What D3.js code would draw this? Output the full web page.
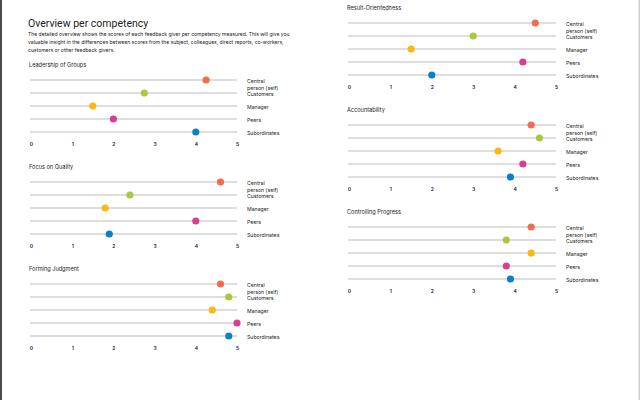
<!DOCTYPE html>
<html>
<head>
<meta charset="utf-8">
<script src="https://cdn.jsdelivr.net/npm/d3@7"></script>
<style>
  html, body { margin: 0; padding: 0; background: #fff; }
  svg { display: block; font-family: Inter, "Noto Sans", sans-serif; }
</style>
</head>
<body>
<svg id="chart" width="640" height="400"></svg>
<script>
// feedback givers, in row order
const givers = ['Central person (self)', 'Customers', 'Manager', 'Peers', 'Subordinates'];
const giverColors = ['#f26d4f', '#a9c93d', '#fcb712', '#d6408f', '#0b80c9'];
const ticks = [0, 1, 2, 3, 4, 5];

const competencies = ['Leadership of Groups', 'Focus on Quality', 'Forming Judgment',
  'Result-Orientedness', 'Accountability', 'Controlling Progress'];

const leadership = [4.25, 2.75, 1.5, 2.0, 4.0];
const focusQuality = [4.6, 2.4, 1.8, 4.0, 1.9];
const formingJudgment = [4.6, 4.8, 4.4, 5.0, 4.8];
const resultOrient = [4.5, 3.0, 1.5, 4.2, 2.0];
const accountability = [4.4, 4.6, 3.6, 4.2, 3.9];
const controlling = [4.4, 3.8, 4.4, 3.8, 3.9];

const scores = [leadership, focusQuality, formingJudgment, resultOrient, accountability, controlling];

const introLines = [
  'The detailed overview shows the scores of each feedback giver per competency measured. This will give you',
  'valuable insight in the differences between scores from the subject, colleagues, direct reports, co-workers,',
  'customers or other feedback givers.'
];

const svg = d3.select('#chart');

// page borders
svg.append('rect').attr('x', 0).attr('y', 0).attr('width', 2).attr('height', 400).attr('fill', '#4a4a4a');
svg.append('rect').attr('x', 638.5).attr('y', 0).attr('width', 1.5).attr('height', 400).attr('fill', '#cfcfcf');

svg.append('text')
  .attr('x', 28).attr('y', 27)
  .attr('font-size', 10.5).attr('fill', '#222')
  .attr('font-family', 'Roboto, Inter, sans-serif')
  .text('Overview per competency');

svg.selectAll('text.intro')
  .data(introLines)
  .enter().append('text')
  .attr('class', 'intro')
  .attr('x', 28).attr('y', (d, i) => 36 + i * 8)
  .attr('font-size', 5.05).attr('fill', '#222')
  .text(d => d);

// panel placement: column x-range and title baseline
const panels = [
  { x0: 31, x1: 237, top: 67 },
  { x0: 31, x1: 237, top: 169 },
  { x0: 31, x1: 237, top: 271 },
  { x0: 349, x1: 556, top: 10 },
  { x0: 349, x1: 556, top: 112 },
  { x0: 349, x1: 556, top: 214 }
];

competencies.forEach((name, ci) => {
  const p = panels[ci];
  const g = svg.append('g').attr('transform', `translate(0,${p.top})`);

  const x = d3.scaleLinear().domain([0, 5]).range([p.x0, p.x1]);
  const y = d3.scalePoint().domain(givers).range([13, 65]);

  g.append('text')
    .attr('x', p.x0 - 2).attr('y', 0)
    .attr('font-size', 5.6).attr('fill', '#222')
    .text(name);

  g.selectAll('line.row')
    .data(givers)
    .enter().append('line')
    .attr('class', 'row')
    .attr('x1', x(0) - 1).attr('x2', x(5))
    .attr('y1', d => y(d)).attr('y2', d => y(d))
    .attr('stroke', '#bdbdbd').attr('stroke-width', 1.1);

  // row labels, "Central person (self)" wraps on two lines
  const lab = g.selectAll('text.lab')
    .data(givers)
    .enter().append('text')
    .attr('class', 'lab')
    .attr('x', x(5) + 10)
    .attr('y', d => y(d) + 2.5)
    .attr('font-size', 5.2).attr('fill', '#222');
  lab.each(function (d) {
    const t = d3.select(this);
    const parts = d === 'Central person (self)' ? ['Central', 'person (self)'] : [d];
    parts.forEach((s, k) => t.append('tspan').attr('x', x(5) + 10).attr('dy', k ? 7 : 0).text(s));
  });

  g.selectAll('circle')
    .data(scores[ci])
    .enter().append('circle')
    .attr('cx', d => x(d))
    .attr('cy', (d, i) => y(givers[i]))
    .attr('r', 3.6)
    .attr('fill', (d, i) => giverColors[i]);

  const axis = d3.axisBottom(x).tickValues(ticks).tickSize(0).tickPadding(0).tickFormat(d3.format('d'));
  const ag = g.append('g').attr('transform', `translate(0,${77})`).call(axis);
  ag.select('.domain').remove();
  ag.selectAll('text')
    .attr('font-size', 5).attr('font-weight', 600).attr('fill', '#222')
    .attr('font-family', 'Inter, sans-serif').attr('dy', '0.35em');
});
</script>
</body>
</html>
